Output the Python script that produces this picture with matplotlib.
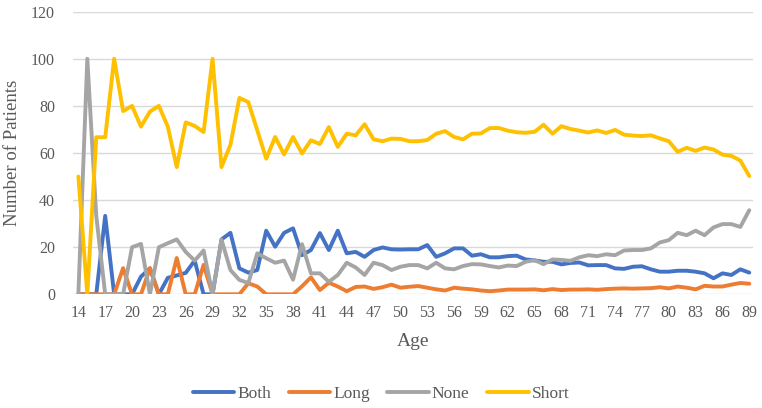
import matplotlib
import matplotlib.pyplot as plt
import numpy as np
matplotlib.use("Agg")

plt.rcParams["font.family"] = ["Liberation Serif", "DejaVu Serif"]

ages = np.arange(14, 90)

both = [0, 0, 0, 33.3, 0, 0, 0, 7.5, 11, 0, 7, 8, 9.1, 14.3, 0, 0,
        23.3, 26.1, 11, 9.2, 10.3, 27, 20.2, 26.1, 28, 16.6, 18.8, 26, 18.8, 27,
        17.4, 18, 15.9, 18.8, 19.9, 19.1, 19, 19.1, 19.1, 20.9, 15.9, 17.4, 19.5, 19.5,
        16.4, 17, 15.7, 15.7, 16.2, 16.4, 14.8, 14.4, 13.8, 13.8, 12.7, 13.3, 13.5,
        12.3, 12.4, 12.4, 11, 10.8, 11.7, 11.9, 10.6, 9.6, 9.6, 10, 10, 9.6, 8.9,
        6.8, 8.9, 8.2, 10.6, 9.2]

long_ = [0, 0, 0, 0, 0, 11.1, 0, 0, 11.1, 0, 0, 15.4, 0, 0, 12.5, 0,
         0, 0, 0, 4.7, 3.3, 0, 0, 0, 0, 3.4, 7.2, 1.8, 4.9, 3.3,
         1.3, 3.1, 3.3, 2.3, 3, 4.1, 2.8, 3.2, 3.5, 2.8, 2.1, 1.6, 2.8, 2.4,
         2.1, 1.6, 1.3, 1.6, 2, 2, 2, 2.1, 1.7, 2.2, 1.8, 2, 2,
         2.1, 1.9, 2.2, 2.4, 2.5, 2.4, 2.5, 2.6, 3, 2.5, 3.3, 2.8, 2.1, 3.6,
         3.3, 3.3, 4.1, 4.8, 4.5]

none = [0, 100, 33.3, 0, 0, 0, 20, 21.4, 0, 20, 21.7, 23.3, 18, 14.3, 18.6, 0,
        23.2, 10.3, 6.1, 4.8, 17.4, 15.3, 13.4, 14.3, 6.2, 21.3, 8.9, 8.9, 5.3, 8.2,
        13.4, 11.4, 8.2, 13.4, 12.4, 10.3, 11.7, 12.4, 12.4, 11, 13.4, 11, 10.6, 12,
        12.8, 12.7, 12, 11.4, 12.2, 12, 13.8, 14.5, 12.8, 14.8, 14.6, 14.2, 15.7,
        16.6, 16.2, 17, 16.6, 18.6, 18.8, 18.8, 19.5, 22, 23, 26.1, 25.1, 27, 25.1,
        28.4, 29.8, 29.8, 28.6, 35.7]

short = [50, 0, 66.7, 66.7, 100, 77.8, 80, 71.2, 77.6, 80, 71.2, 54, 73, 71.5, 68.9, 100,
         54, 63.5, 83.4, 81.6, 69.6, 57.6, 66.8, 59.4, 66.8, 59.8, 65.4, 63.8, 71, 62.6,
         68.2, 67.5, 72.2, 65.8, 65, 66.1, 66, 65, 65, 65.5, 68.2, 69.3, 66.8, 65.8,
         68.2, 68.3, 70.6, 70.6, 69.5, 68.8, 68.6, 69, 72, 68.2, 71.4, 70.2, 69.5,
         68.7, 69.6, 68.5, 69.8, 67.8, 67.4, 67.2, 67.5, 66.2, 65, 60.5, 62.2, 60.9, 62.3,
         61.5, 59.3, 58.8, 56.8, 50.2]

series = [("Both", both, "#4472C4"), ("Long", long_, "#ED7D31"),
          ("None", none, "#A5A5A5"), ("Short", short, "#FFC000")]

fig = plt.figure(figsize=(7.62, 4.08), dpi=100)
ax = fig.add_axes([0.0958, 0.2787, 0.8922, 0.6926])

for name, vals, col in series:
    ax.plot(ages, vals, color=col, lw=2.8, label=name, solid_capstyle="round",
            solid_joinstyle="round")

ax.set_xlim(13.4, 89.4)
ax.set_ylim(0, 120)
ax.set_yticks(range(0, 121, 20))
ax.set_xticks(ages[::3])
ax.grid(axis="y", color="#D9D9D9", lw=1)
ax.set_axisbelow(True)
for s in ax.spines.values():
    s.set_visible(False)
ax.tick_params(length=0, labelsize=11.5, colors="#595959", pad=8)
ax.tick_params(axis="y", pad=13)

ax.set_xlabel("Age", fontsize=14, color="#595959", labelpad=8)
ax.set_ylabel("Number of Patients", fontsize=13.5, color="#595959", labelpad=7)

leg = fig.legend(loc="center", bbox_to_anchor=(0.5, 0.034), ncol=4, frameon=False,
                 fontsize=12.5, handlelength=2.4, handletextpad=0.17,
                 columnspacing=1.0)
for t in leg.get_texts():
    t.set_color("#595959")

fig.savefig("out.png", dpi=100)
